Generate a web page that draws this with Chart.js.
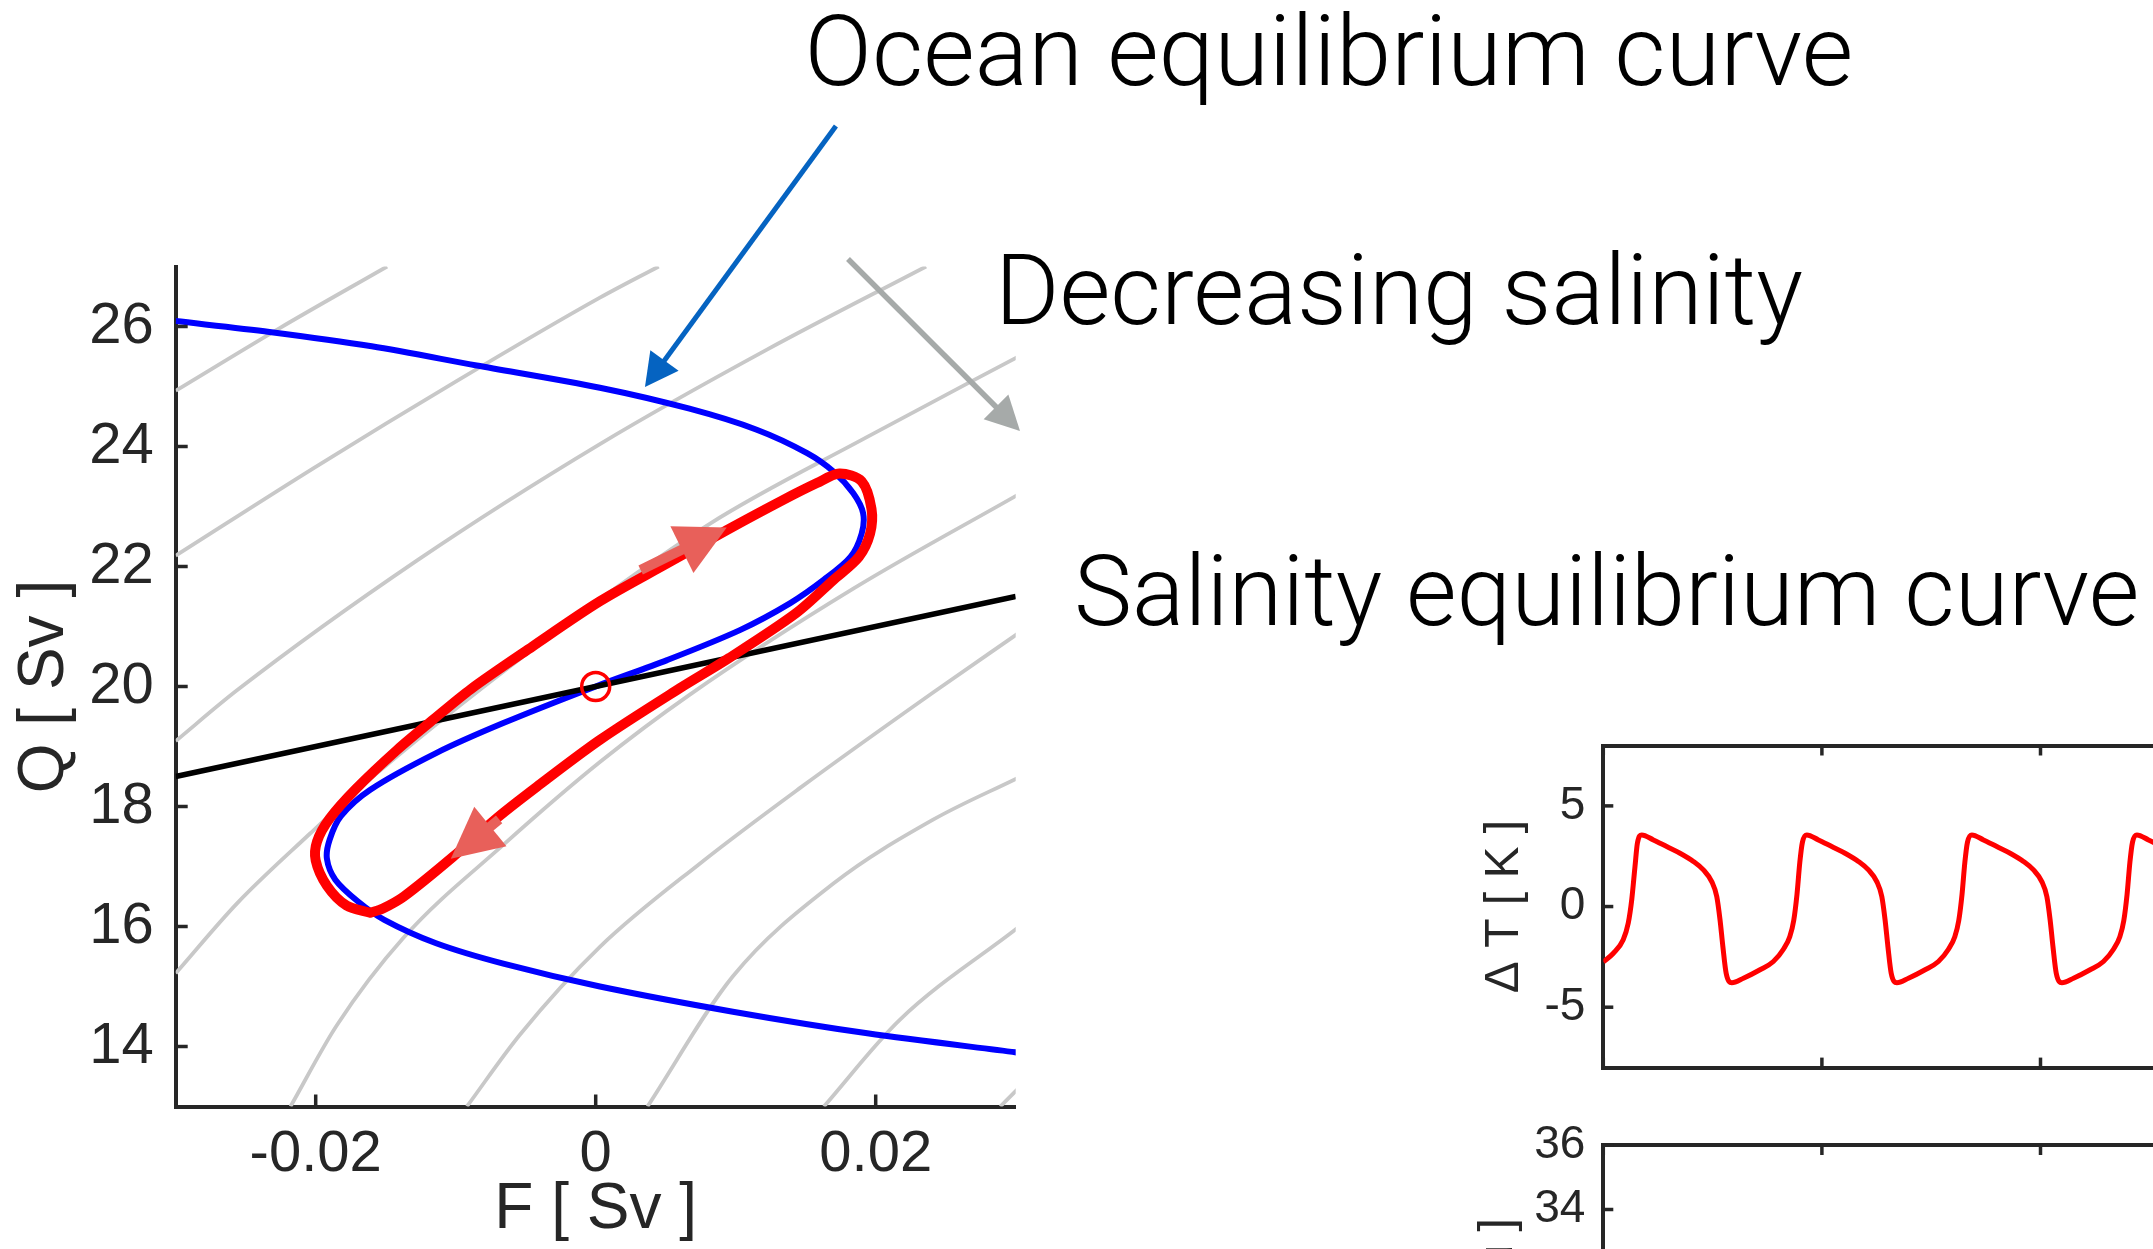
<!DOCTYPE html>
<html>
<head>
<meta charset="utf-8">
<script src="https://cdn.jsdelivr.net/npm/chart.js@4.4.1/dist/chart.umd.min.js"></script>
<style>
  html, body { margin: 0; padding: 0; width: 2153px; height: 1249px; overflow: hidden; background: #fff; }
  canvas { position: absolute; left: 0; top: 0; }
</style>
</head>
<body>
<canvas id="phase" width="2153" height="1249"></canvas>
<canvas id="temp" width="2587" height="1249"></canvas>
<canvas id="salt" width="2587" height="1600"></canvas>
<script>
// ---- phase plane: freshwater flux F [Sv] against overturning Q [Sv] ----
const oceanF = [-0.0300, -0.0233, -0.0160, -0.0085, 0.0003, 0.0067, 0.0115, 0.0151, 0.0170, 0.0184, 0.0191,
  0.0190, 0.0182, 0.0163, 0.0139, 0.0103, 0.0051, 0.0000, -0.0066, -0.0114, -0.0161, -0.0182, -0.0190,
  -0.0192, -0.0186, -0.0170, -0.0151, -0.0114, -0.0066, 0.0003, 0.0098, 0.0194, 0.0301];
const oceanQ = [26.09, 25.91, 25.67, 25.35, 24.98, 24.63, 24.28, 23.89, 23.58, 23.22, 22.89,
  22.55, 22.16, 21.78, 21.39, 20.94, 20.44, 20.00, 19.39, 18.89, 18.28, 17.84, 17.45,
  17.13, 16.78, 16.42, 16.11, 15.72, 15.38, 15.00, 14.58, 14.22, 13.90];

const salinityF = [-0.03, 0.03];
const salinityQ = [18.5, 21.5];

// limit cycle (closed loop)
const cycleF = [-0.0161, -0.0178, -0.0192, -0.0200, -0.0199, -0.0190, -0.0171, -0.0142, -0.0117, -0.0089,
  -0.0045, 0.0003, 0.0051, 0.0094, 0.0134, 0.0158, 0.0174, 0.0190, 0.0197, 0.0196, 0.0188, 0.0170,
  0.0143, 0.0095, 0.0060, 0.0003, -0.0042, -0.0071, -0.0102, -0.0137, -0.0152, -0.0161];
const cycleQ = [16.23, 16.35, 16.68, 17.10, 17.42, 17.80, 18.30, 18.94, 19.43, 19.96,
  20.67, 21.42, 22.05, 22.61, 23.11, 23.39, 23.55, 23.42, 22.96, 22.55, 22.16, 21.78,
  21.22, 20.47, 19.97, 19.11, 18.33, 17.80, 17.16, 16.50, 16.30, 16.23];

const fixedF = [0];
const fixedQ = [20];

// grey salinity contours
const isoF = [
  [-0.0300, -0.0226, -0.0149],
  [-0.0300, -0.0200, -0.0100, 0.0003, 0.0045],
  [-0.0300, -0.0256, -0.0127, 0.0003, 0.0122, 0.0236],
  [-0.0300, -0.0256, -0.0204, -0.0171, -0.0045, 0.0082, 0.0194, 0.0302],
  [-0.0218, -0.0185, -0.0137, -0.0066, 0.0003, 0.0067, 0.0184, 0.0302],
  [-0.0092, -0.0054, 0.0003, 0.0075, 0.0146, 0.0241, 0.0302],
  [0.0037, 0.0098, 0.0170, 0.0241, 0.0301],
  [0.0163, 0.0217, 0.0301],
  [0.0289, 0.0301]
];
const isoQ = [
  [24.93, 25.97, 27.00],
  [22.18, 23.66, 25.08, 26.48, 27.00],
  [19.09, 19.94, 22.11, 24.04, 25.61, 27.00],
  [15.22, 16.39, 17.55, 18.26, 20.62, 22.72, 24.16, 25.50],
  [13.00, 14.35, 15.82, 17.36, 18.74, 19.86, 21.63, 23.20],
  [13.00, 14.20, 15.66, 17.06, 18.31, 19.90, 20.89],
  [13.00, 15.17, 16.72, 17.78, 18.47],
  [13.00, 14.44, 15.97],
  [13.00, 13.28]
];

const fTicks = [-0.02, 0, 0.02];
const fTickLabels = ['-0.02', '0', '0.02'];
const qTicks = [14, 16, 18, 20, 22, 24, 26];

// ---- time series: temperature difference ----
const timeT = [0, 4.6, 9.1, 11.4, 13.0, 14.5, 15.6, 17.6,
  22.9, 29.0, 35.1, 41.2, 45.8, 49.6, 51.9, 53.4, 54.7, 56.2, 58.8, 64.1, 71.7, 77.8, 82.4, 85.3, 87.1, 88.6, 89.9, 91.1, 93.1,
  98.4, 104.5, 110.6, 116.7, 121.3, 125.1, 127.4, 128.9, 130.2, 131.7, 134.3, 139.6, 147.2, 153.3, 157.9, 160.8, 162.6, 164.1, 165.4, 166.6, 168.6,
  173.9, 180.0, 186.1, 192.2, 196.8, 200.6, 202.9, 204.4, 205.7, 207.2, 209.8, 215.1, 222.7, 228.8, 233.4, 236.3, 238.1, 239.6, 240.9, 242.1, 244.1,
  249.4, 255.5, 261.6];
const deltaT = [-2.75, -2.32, -1.65, -0.83, 0.33, 1.99, 3.15, 3.56,
  3.31, 2.98, 2.65, 2.24, 1.82, 1.24, 0.50, -0.66, -1.99, -3.31, -3.78, -3.56, -3.14, -2.73, -2.12, -1.50, -0.70, 0.60, 2.20, 3.20, 3.56,
  3.31, 2.98, 2.65, 2.24, 1.82, 1.24, 0.50, -0.66, -1.99, -3.31, -3.78, -3.56, -3.14, -2.73, -2.12, -1.50, -0.70, 0.60, 2.20, 3.20, 3.56,
  3.31, 2.98, 2.65, 2.24, 1.82, 1.24, 0.50, -0.66, -1.99, -3.31, -3.78, -3.56, -3.14, -2.73, -2.12, -1.50, -0.70, 0.60, 2.20, 3.20, 3.56,
  3.31, 2.98, 2.65];

const tTicks = [0, 100, 200, 300, 400];
const dTTicks = [-5, 0, 5];
const sTicks = [26, 28, 30, 32, 34, 36];

// ---- helpers ----
const ink = '#262626';
const sans = "'Liberation Sans', Arial, Helvetica, sans-serif";
const pts = (xs, ys) => xs.map((x, i) => ({ x, y: ys[i] }));
const ticksFrom = vals => s => { s.ticks = vals.map(v => ({ value: v })); };
const fixW = w => s => { s.width = w; };
const fixH = h => s => { s.height = h; };
const axisLine = { display: true, color: ink, width: 4 };
const noGrid = { display: false, drawTicks: false };

// matlab style ticks pointing into the axes
const innerTicks = {
  id: 'innerTicks',
  afterDraw(chart, args, opts) {
    const { ctx, chartArea: a } = chart;
    ctx.save();
    ctx.strokeStyle = opts.color;
    ctx.lineWidth = opts.width;
    Object.values(chart.scales).forEach(s => {
      s.ticks.forEach(t => {
        const p = s.getPixelForValue(t.value);
        ctx.beginPath();
        if (s.isHorizontal()) {
          const y = s.position === 'top' ? a.top : a.bottom;
          ctx.moveTo(p, y);
          ctx.lineTo(p, s.position === 'top' ? y + opts.len : y - opts.len);
        } else {
          const x = s.position === 'right' ? a.right : a.left;
          ctx.moveTo(x, p);
          ctx.lineTo(s.position === 'right' ? x - opts.len : x + opts.len, p);
        }
        ctx.stroke();
      });
    });
    ctx.restore();
  }
};

// annotation arrows and captions, anchored in data units of the phase plot
const arrows = [
  { from: [0.01716, 29.34], to: [0.00352, 24.99], color: '#0563c1', width: 5, head: 33, spread: 35 },
  { from: [0.01802, 27.125], to: [0.03031, 24.26], color: '#a6aaa9', width: 5.5, head: 34, spread: 35 },
  { from: [0.00321, 21.94], to: [0.00936, 22.65], color: '#e8605a', width: 10, head: 50, spread: 52 },
  { from: [-0.0069, 17.785], to: [-0.01035, 17.13], color: '#e8605a', width: 10, head: 51, spread: 51 }
];
const captions = [
  { text: 'Ocean equilibrium curve', at: [0.01492, 30.025], right: 0.08983 },
  { text: 'Decreasing salinity', at: [0.02852, 26.04], right: 0.08624 },
  { text: 'Salinity equilibrium curve', at: [0.03417, 21.025], right: 0.11026 }
];

function drawArrow(ctx, x0, y0, x1, y1, a) {
  const len = Math.hypot(x1 - x0, y1 - y0);
  const ux = (x1 - x0) / len, uy = (y1 - y0) / len;
  const bx = x1 - ux * a.head, by = y1 - uy * a.head;
  ctx.strokeStyle = a.color;
  ctx.lineWidth = a.width;
  ctx.lineCap = 'butt';
  ctx.beginPath();
  ctx.moveTo(x0, y0);
  ctx.lineTo(bx + ux * 2, by + uy * 2);
  ctx.stroke();
  ctx.fillStyle = a.color;
  ctx.beginPath();
  ctx.moveTo(x1, y1);
  ctx.lineTo(bx - uy * a.spread / 2, by + ux * a.spread / 2);
  ctx.lineTo(bx + uy * a.spread / 2, by - ux * a.spread / 2);
  ctx.closePath();
  ctx.fill();
}

const notes = {
  id: 'notes',
  afterDatasetsDraw(chart) {
    const { ctx, scales: { x, y } } = chart;
    const px = (f, q) => [x.getPixelForValue(f), y.getPixelForValue(q)];
    ctx.save();
    arrows.forEach(a => {
      const [x0, y0] = px(...a.from);
      const [x1, y1] = px(...a.to);
      drawArrow(ctx, x0, y0, x1, y1, a);
    });
    ctx.font = '300 98px Roboto, "Liberation Sans", sans-serif';
    ctx.fillStyle = '#000';
    ctx.textBaseline = 'alphabetic';
    ctx.textAlign = 'left';
    captions.forEach(c => {
      const [x0, y0] = px(...c.at);
      const w = x.getPixelForValue(c.right) - x0;
      const m = ctx.measureText(c.text).width;
      ctx.save();
      ctx.translate(x0, y0);
      ctx.scale(w / m, 1);
      ctx.fillText(c.text, 0, 0);
      ctx.restore();
    });
    ctx.restore();
  }
};

const common = {
  responsive: false,
  animation: false,
  devicePixelRatio: 1,
  events: []
};

// ---- phase plot ----
new Chart(document.getElementById('phase'), {
  type: 'scatter',
  data: {
    datasets: [
      { data: pts(fixedF, fixedQ), pointRadius: 14, pointBorderWidth: 3.5, pointBorderColor: '#ff0000',
        pointBackgroundColor: 'rgba(0,0,0,0)', order: 0 },
      { data: pts(cycleF, cycleQ), showLine: true, borderColor: '#ff0000', borderWidth: 10, tension: 0.3,
        borderJoinStyle: 'round', borderCapStyle: 'round', pointRadius: 0, order: 1 },
      { data: pts(salinityF, salinityQ), showLine: true, borderColor: '#000000', borderWidth: 5.5, pointRadius: 0, order: 2 },
      { data: pts(oceanF, oceanQ), showLine: true, borderColor: '#0000ff', borderWidth: 6, tension: 0.3,
        pointRadius: 0, order: 3 },
      ...isoF.map((fs, i) => ({
        data: pts(fs, isoQ[i]), showLine: true, borderColor: '#c8c8c8', borderWidth: 3.8,
        cubicInterpolationMode: 'monotone', pointRadius: 0, order: 4
      }))
    ]
  },
  options: {
    ...common,
    layout: { padding: { left: 0, top: 266.5, right: 1137.3, bottom: 0 }, autoPadding: false },
    plugins: {
      legend: { display: false },
      tooltip: { enabled: false },
      innerTicks: { len: 12, width: 3.5, color: ink }
    },
    scales: {
      x: {
        type: 'linear', min: -0.03, max: 0.03,
        afterBuildTicks: ticksFrom(fTicks), afterFit: fixH(142.5),
        grid: noGrid, border: axisLine,
        ticks: { color: ink, font: { family: sans, size: 58 }, padding: 14, maxRotation: 0, autoSkip: false,
          callback: v => fTickLabels[fTicks.indexOf(v)] },
        title: { display: true, text: 'F [ Sv ]', color: ink, font: { family: sans, size: 64 }, padding: { top: 0, bottom: 0 } }
      },
      y: {
        type: 'linear', min: 13, max: 27,
        afterBuildTicks: ticksFrom(qTicks), afterFit: fixW(175.7),
        grid: noGrid, border: axisLine,
        ticks: { color: ink, font: { family: sans, size: 58 }, padding: 22, autoSkip: false },
        title: { display: true, text: 'Q [ Sv ]', color: ink, font: { family: sans, size: 64 }, padding: { top: 7, bottom: 0 } }
      }
    }
  },
  plugins: [innerTicks, notes]
});

// ---- temperature difference time series (runs off the right edge) ----
new Chart(document.getElementById('temp'), {
  type: 'scatter',
  data: {
    datasets: [{
      data: pts(timeT, deltaT), showLine: true, borderColor: '#ff0000', borderWidth: 5,
      cubicInterpolationMode: 'monotone', pointRadius: 0, xAxisID: 'x', yAxisID: 'y'
    }]
  },
  options: {
    ...common,
    layout: { padding: { left: 0, top: 745.5, right: 0, bottom: 0 }, autoPadding: false },
    plugins: {
      legend: { display: false },
      tooltip: { enabled: false },
      innerTicks: { len: 10, width: 3.5, color: ink }
    },
    scales: {
      x: {
        type: 'linear', position: 'bottom', min: 0, max: 450,
        afterBuildTicks: ticksFrom(tTicks), afterFit: fixH(181.4),
        grid: noGrid, border: axisLine, ticks: { display: false }
      },
      x2: {
        type: 'linear', position: 'top', min: 0, max: 450,
        afterBuildTicks: ticksFrom(tTicks), afterFit: fixH(0),
        grid: noGrid, border: axisLine, ticks: { display: false }
      },
      y: {
        type: 'linear', min: -8, max: 8,
        afterBuildTicks: ticksFrom(dTTicks), afterFit: fixW(1603.3),
        grid: noGrid, border: axisLine,
        ticks: { color: ink, font: { family: sans, size: 46 }, padding: 18 },
        title: { display: true, text: 'Δ T [ K ]', color: ink, font: { family: sans, size: 48 }, padding: { top: 1476, bottom: 0 } }
      }
    }
  },
  plugins: [innerTicks]
});

// ---- salinity panel, only its top edge is in view ----
new Chart(document.getElementById('salt'), {
  type: 'scatter',
  data: { datasets: [] },
  options: {
    ...common,
    layout: { padding: { left: 0, top: 1145, right: 0, bottom: 0 }, autoPadding: false },
    plugins: {
      legend: { display: false },
      tooltip: { enabled: false },
      innerTicks: { len: 10, width: 3.5, color: ink }
    },
    scales: {
      x: {
        type: 'linear', position: 'bottom', min: 0, max: 450,
        afterBuildTicks: ticksFrom(tTicks), afterFit: fixH(132.5),
        grid: noGrid, border: axisLine, ticks: { display: false }
      },
      x2: {
        type: 'linear', position: 'top', min: 0, max: 450,
        afterBuildTicks: ticksFrom(tTicks), afterFit: fixH(0),
        grid: noGrid, border: axisLine, ticks: { display: false }
      },
      y: {
        type: 'linear', min: 26, max: 36,
        afterBuildTicks: ticksFrom(sTicks), afterFit: fixW(1603.3),
        grid: noGrid, border: axisLine,
        ticks: { color: ink, font: { family: sans, size: 46 }, padding: 18 },
        title: { display: true, text: 'S [ psu ]', color: ink, font: { family: sans, size: 48 }, padding: { top: 1470, bottom: 0 } }
      }
    }
  },
  plugins: [innerTicks]
});
</script>
</body>
</html>
